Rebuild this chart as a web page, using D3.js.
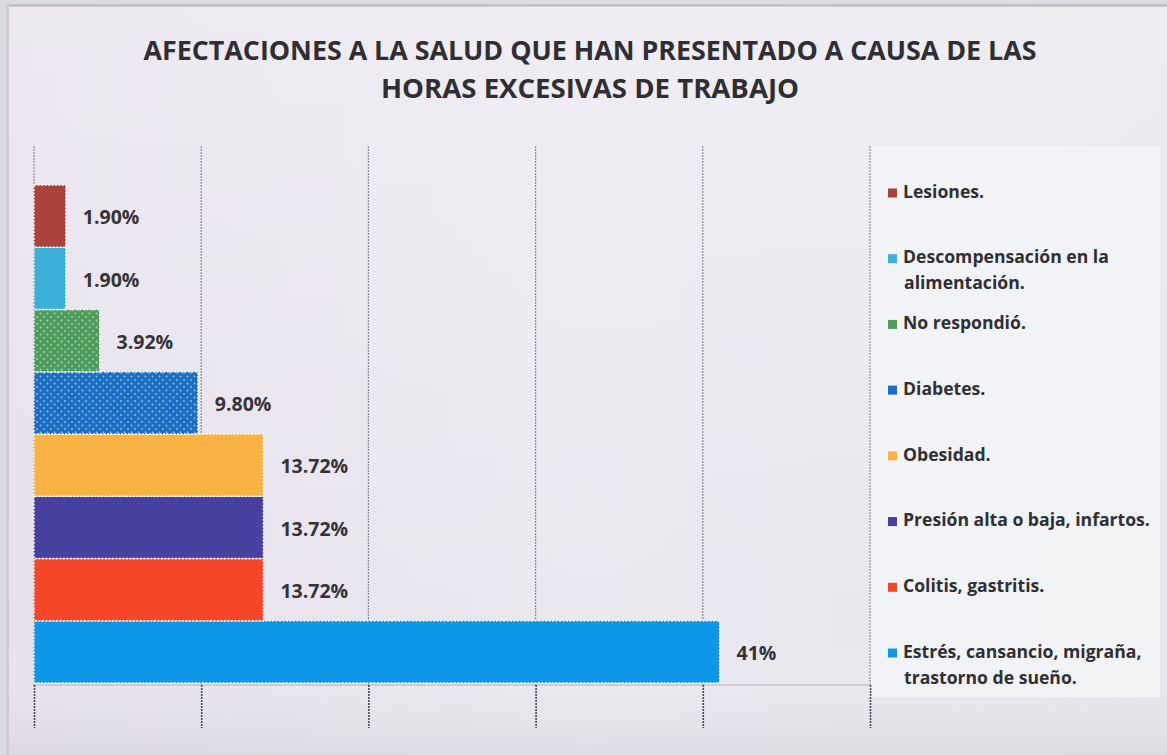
<!DOCTYPE html>
<html>
<head>
<meta charset="utf-8">
<script src="https://cdn.jsdelivr.net/npm/d3@7"></script>
<style>
  html, body { margin: 0; padding: 0; background: #dcdbe1; }
  svg { display: block; }
</style>
</head>
<body>
<svg id="chart" width="1167" height="755"></svg>
<script>
// Categories, bottom bar first
const categories = [
  "Estrés, cansancio, migraña, trastorno de sueño.",
  "Colitis, gastritis.",
  "Presión alta o baja, infartos.",
  "Obesidad.",
  "Diabetes.",
  "No respondió.",
  "Descompensación en la alimentación.",
  "Lesiones."
];
const values = [41, 13.72, 13.72, 13.72, 9.80, 3.92, 1.90, 1.90];
const valueLabels = ["41%", "13.72%", "13.72%", "13.72%", "9.80%", "3.92%", "1.90%", "1.90%"];
const colors = ["#0e97e6", "#f5462a", "#48409e", "#f9b244", "#1b6fc2", "#4d9c5c", "#3cb0d9", "#a9433b"];
const dotted = [false, false, false, false, true, true, false, false];
// Legend entries, top to bottom, split into lines
const legendLines = [
  ["Lesiones."],
  ["Descompensación en la", "alimentación."],
  ["No respondió."],
  ["Diabetes."],
  ["Obesidad."],
  ["Presión alta o baja, infartos."],
  ["Colitis, gastritis."],
  ["Estrés, cansancio, migraña,", "trastorno de sueño."]
];
const legendColors = ["#a9433b", "#3cb0d9", "#4d9c5c", "#1b6fc2", "#f9b244", "#48409e", "#f5462a", "#0e97e6"];
const xTicks = [0, 10, 20, 30, 40, 50];
const titleLines = [
  "AFECTACIONES A LA SALUD QUE HAN PRESENTADO A CAUSA DE LAS",
  "HORAS EXCESIVAS DE TRABAJO"
];

const svg = d3.select("#chart");
const defs = svg.append("defs");

// Page background
const bg = defs.append("linearGradient").attr("id", "bg").attr("x1", 0).attr("x2", 1).attr("y1", 0).attr("y2", 0);
bg.append("stop").attr("offset", "0").attr("stop-color", "#e7e1ec");
bg.append("stop").attr("offset", "0.5").attr("stop-color", "#ebe8f0");
bg.append("stop").attr("offset", "1").attr("stop-color", "#e6e7ec");

const bgV = defs.append("linearGradient").attr("id", "bgV").attr("x1", 0).attr("x2", 0).attr("y1", 0).attr("y2", 1);
bgV.append("stop").attr("offset", "0").attr("stop-color", "#ffffff").attr("stop-opacity", 0.25);
bgV.append("stop").attr("offset", "0.85").attr("stop-color", "#ffffff").attr("stop-opacity", 0);
bgV.append("stop").attr("offset", "1").attr("stop-color", "#c8c7ce").attr("stop-opacity", 0.35);

// Dot texture for patterned bars
colors.forEach((c, i) => {
  if (!dotted[i]) return;
  const p = defs.append("pattern").attr("id", "dots" + i)
    .attr("patternUnits", "userSpaceOnUse").attr("width", 7).attr("height", 7);
  p.append("rect").attr("width", 7).attr("height", 7).attr("fill", c);
  p.append("circle").attr("cx", 2).attr("cy", 2).attr("r", 0.9).attr("fill", "#ffffff").attr("opacity", 0.55);
  p.append("circle").attr("cx", 5.5).attr("cy", 5.5).attr("r", 0.9).attr("fill", "#ffffff").attr("opacity", 0.55);
});

svg.append("rect").attr("width", 1167).attr("height", 755).attr("fill", "#dcdbe1");
svg.append("rect").attr("x", 7).attr("y", 5).attr("width", 1160).attr("height", 750).attr("fill", "url(#bg)");
svg.append("rect").attr("x", 7).attr("y", 5).attr("width", 1160).attr("height", 750).attr("fill", "url(#bgV)");
svg.append("line").attr("x1", 7).attr("x2", 1167).attr("y1", 5.5).attr("y2", 5.5).attr("stroke", "#b9b8be").attr("stroke-width", 2);
svg.append("line").attr("x1", 7.5).attr("x2", 7.5).attr("y1", 5).attr("y2", 755).attr("stroke", "#cfcdd4").attr("stroke-width", 3);

// Title
svg.append("g").selectAll("text").data(titleLines).join("text")
  .attr("x", 590)
  .attr("y", (d, i) => 60 + i * 38)
  .attr("text-anchor", "middle")
  .attr("textLength", (d, i) => i === 0 ? 893 : 418)
  .attr("lengthAdjust", "spacingAndGlyphs")
  .attr("font-family", "'Open Sans', Lato, sans-serif")
  .attr("font-weight", "bold")
  .attr("font-size", 26)
  .attr("fill", "#2e2e33")
  .text(d => d);

// Scales
const x = d3.scaleLinear().domain([0, 50]).range([34, 870]);
const y = d3.scaleBand().domain(categories).range([683, 185]).paddingInner(0).paddingOuter(0);

const plotTop = 146, axisY = 685, tickBottom = 728;

// Legend panel
svg.append("rect").attr("x", 869).attr("y", plotTop).attr("width", 291).attr("height", 551)
  .attr("fill", "#f3f4f6").attr("opacity", 0.9);

// Gridlines
svg.append("g").selectAll("line").data(xTicks.slice(1)).join("line")
  .attr("x1", d => x(d)).attr("x2", d => x(d))
  .attr("y1", plotTop).attr("y2", axisY)
  .attr("stroke", "#8d8c94").attr("stroke-width", 1.2).attr("stroke-dasharray", "2,1");

// Axis with downward ticks
const xAxis = d3.axisBottom(x).tickValues(xTicks).tickSize(tickBottom - axisY).tickFormat("");
const axisG = svg.append("g").attr("transform", `translate(0,${axisY})`).call(xAxis);
axisG.select(".domain").attr("stroke", "#b0afb6").attr("stroke-width", 1).attr("d", `M${x(0)},0H${x(50)}`);
axisG.selectAll(".tick line").attr("stroke", "#4a4a52").attr("stroke-width", 1.6).attr("stroke-dasharray", "2,1");

// Vertical axis line at zero
svg.append("line").attr("x1", x(0)).attr("x2", x(0)).attr("y1", plotTop).attr("y2", axisY)
  .attr("stroke", "#8d8c94").attr("stroke-width", 1.2).attr("stroke-dasharray", "2,1");

// Bars
svg.append("g").selectAll("rect").data(categories).join("rect")
  .attr("x", x(0))
  .attr("y", d => y(d))
  .attr("width", (d, i) => x(values[i]) - x(0))
  .attr("height", y.bandwidth())
  .attr("fill", (d, i) => dotted[i] ? `url(#dots${i})` : colors[i])
  .attr("stroke", "#ffffff")
  .attr("stroke-width", 1.3)
  .attr("stroke-dasharray", "2,1.5");

// Value labels
svg.append("g").selectAll("text").data(categories).join("text")
  .attr("x", (d, i) => x(values[i]) + 17)
  .attr("y", d => y(d) + y.bandwidth() / 2 + 3)
  .attr("dominant-baseline", "middle")
  .attr("font-family", "'Open Sans', Lato, sans-serif")
  .attr("font-weight", "bold")
  .attr("font-size", 19.5)
  .attr("fill", "#333338")
  .text((d, i) => valueLabels[i]);

// Legend
const ly = d3.scalePoint().domain(d3.range(legendLines.length)).range([193, 653]);
const lg = svg.append("g").selectAll("g").data(legendLines).join("g")
  .attr("transform", (d, i) => `translate(0,${ly(i)})`);
lg.append("rect").attr("x", 888).attr("y", -4.5).attr("width", 9).attr("height", 9)
  .attr("fill", (d, i) => legendColors[i]);
lg.selectAll("text").data(d => d).join("text")
  .attr("x", (d, j) => 903 + (j > 0 ? 1 : 0))
  .attr("y", (d, j) => j * 26)
  .attr("dominant-baseline", "middle")
  .attr("font-family", "'Open Sans', Lato, sans-serif")
  .attr("font-weight", "bold")
  .attr("font-size", 17.6)
  .attr("fill", "#2f2f35")
  .text(d => d);
</script>
</body>
</html>
